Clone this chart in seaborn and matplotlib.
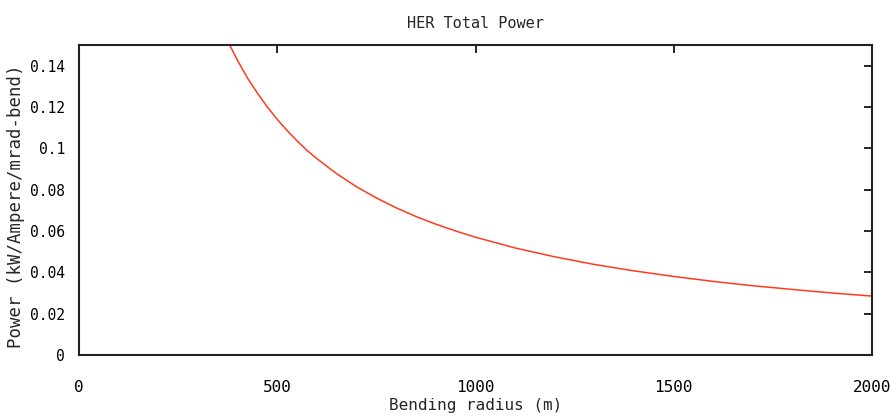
import matplotlib
matplotlib.use("Agg")
import matplotlib.pyplot as plt
import seaborn as sns
import pandas as pd

radius_m = [380, 400, 425, 450, 475, 500, 525, 550, 575, 600, 650, 700, 750,
            800, 850, 900, 950, 1000, 1100, 1200, 1300, 1400, 1500, 1600,
            1700, 1800, 1900, 2000]
power = [0.150, 0.1425, 0.134, 0.1267, 0.120, 0.114, 0.1086, 0.1036, 0.099,
         0.095, 0.0877, 0.0814, 0.076, 0.0712, 0.067, 0.0633, 0.060, 0.057,
         0.0518, 0.0475, 0.0438, 0.0407, 0.038, 0.0356, 0.0335, 0.0317,
         0.030, 0.0285]
x_ticks = [0, 500, 1000, 1500, 2000]
y_ticks = [0, 0.02, 0.04, 0.06, 0.08, 0.1, 0.12, 0.14]
y_tick_labels = ["0", "0.02", "0.04", "0.06", "0.08", "0.1", "0.12", "0.14"]

df = pd.DataFrame({"r": radius_m, "p": power})

sns.set_style("white")
plt.rcParams["font.family"] = ["DejaVu Sans Mono", "DejaVu Sans"]

fig = plt.figure(figsize=(8.9, 4.18), dpi=100)
ax = fig.add_axes([79/890, 63/418, (872-79)/890, (355-45)/418])
sns.lineplot(data=df, x="r", y="p", ax=ax, color="#ff3a1e", linewidth=1.1)

ax.set_xlim(0, 2000)
ax.set_ylim(0, 0.15)
ax.set_xticks(x_ticks)
ax.set_xticklabels([str(t) for t in x_ticks])
ax.set_yticks(y_ticks)
ax.set_yticklabels(y_tick_labels)
ax.tick_params(direction="in", length=6, width=1.2, top=True, right=True,
               labelsize=11.5, colors="black")
ax.tick_params(axis="x", pad=18)
ax.tick_params(axis="y", pad=10, labelsize=10.5)
for s in ax.spines.values():
    s.set_linewidth(1.5)
    s.set_color("#222222")
ax.set_title("HER Total Power", fontsize=11, pad=12)
ax.set_xlabel("Bending radius (m)", fontsize=11.5, labelpad=2)
ax.set_ylabel("Power (kW/Ampere/mrad-bend)", fontsize=12.5)
ax.yaxis.set_label_coords(-0.068, 0.48)

fig.savefig("out.png", dpi=100)
